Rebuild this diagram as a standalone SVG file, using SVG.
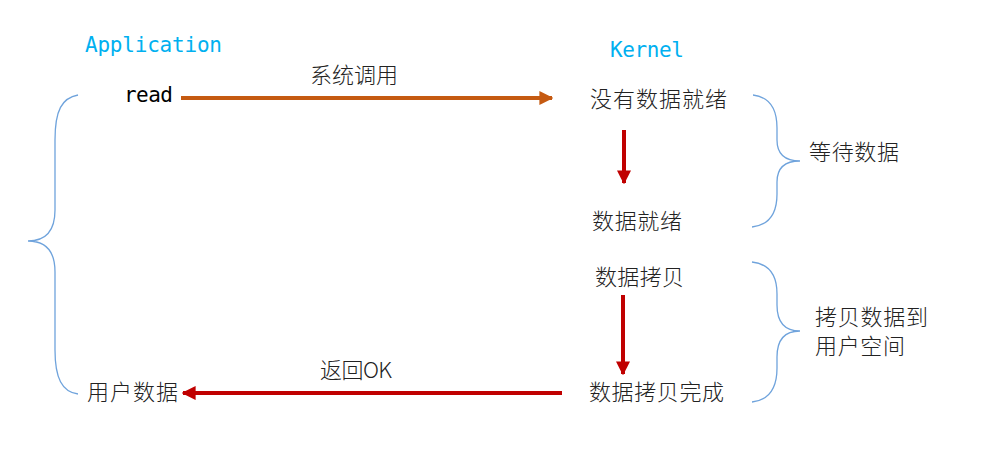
<svg xmlns="http://www.w3.org/2000/svg" width="986" height="461" viewBox="0 0 986 461">
<style>
.mono{font-family:"DejaVu Sans Mono","Liberation Mono",monospace;font-size:21px}
.hd{fill:#00b0f0;font-weight:normal}
.cjk{font-family:"Noto Sans CJK SC","Liberation Sans",sans-serif;font-size:22px;fill:#222;font-weight:300}
.brace{fill:none;stroke:#6fa3dc;stroke-width:1.3}
.red{stroke:#c00000;stroke-width:4;fill:none}
.org{stroke:#c55a11;stroke-width:4;fill:none}
</style>
<defs>
<marker id="ar" viewBox="0 0 10 10" refX="9" refY="5" markerWidth="3.5" markerHeight="3.5" orient="auto" markerUnits="strokeWidth"><path d="M0,0 L10,5 L0,10 z" fill="#c00000"/></marker>
<marker id="ao" viewBox="0 0 10 10" refX="9" refY="5" markerWidth="3.5" markerHeight="3.5" orient="auto" markerUnits="strokeWidth"><path d="M0,0 L10,5 L0,10 z" fill="#c55a11"/></marker>
</defs>
<rect width="986" height="461" fill="#fff"/>
<g id="app-header"><text class="mono hd" x="85" y="52" textLength="137">Application</text></g>
<g id="kernel-header"><text class="mono hd" x="610" y="57" textLength="74">Kernel</text></g>
<g id="read"><text class="mono" x="124" y="102" textLength="49" fill="#000">read</text></g>
<g id="no-data"><text class="cjk" x="590" y="107" textLength="137">没有数据就绪</text></g>
<g id="data-ready"><text class="cjk" x="592" y="229" textLength="90">数据就绪</text></g>
<g id="copy"><text class="cjk" x="595" y="285" textLength="89">数据拷贝</text></g>
<g id="copy-done"><text class="cjk" x="589" y="400" textLength="135">数据拷贝完成</text></g>
<g id="user-data"><text class="cjk" x="87" y="400" textLength="91">用户数据</text></g>
<g id="wait"><text class="cjk" x="809" y="160" textLength="90">等待数据</text>
<path class="brace" d="M753,95 C770,97 777,110 777,128 L777,140 C777,155 785,161 800,161 C785,161 777,167 777,182 L777,194 C777,212 770,225 752,227"/></g>
<g id="copy-user"><text class="cjk" x="815" y="325" textLength="113">拷贝数据到</text><text class="cjk" x="815" y="354" textLength="90">用户空间</text>
<path class="brace" d="M752,262 C770,264 777,276 777,294 L777,305 C777,322 785,331 800,331 C785,331 777,340 777,357 L777,368 C777,388 770,400 752,402"/></g>
<g id="app-brace"><path class="brace" d="M78,95 C62,98 55,110 55,140 L55,210 C55,232 45,241 28,241 C45,241 55,250 55,272 L55,350 C55,378 62,392 78,394"/></g>
<g id="connectors">
<line class="org" x1="181" y1="98" x2="552" y2="98" marker-end="url(#ao)"/>
<text class="cjk" x="310" y="83" textLength="88">系统调用</text>
<line class="red" x1="624" y1="130" x2="624" y2="183" marker-end="url(#ar)"/>
<line class="red" x1="623" y1="295" x2="623" y2="374" marker-end="url(#ar)"/>
<line class="red" x1="562" y1="393" x2="183" y2="393" marker-end="url(#ar)"/>
<text class="cjk" x="320" y="378" textLength="72">返回OK</text>
</g>
</svg>
